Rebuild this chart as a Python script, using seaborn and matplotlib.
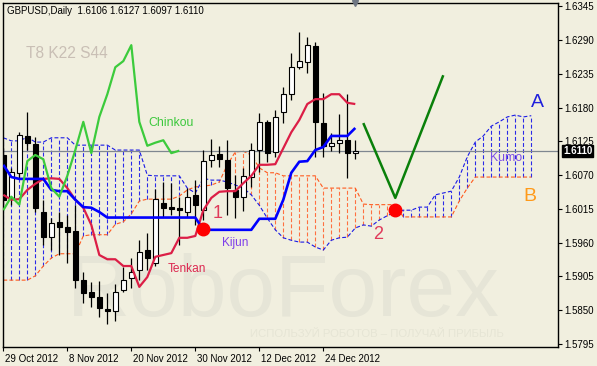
import numpy as np
import matplotlib
matplotlib.use("Agg")
import matplotlib.pyplot as plt
import matplotlib.transforms as mtransforms
import seaborn as sns

# ---------------- data (GBPUSD daily) ----------------
open_ = [1.6103, 1.6033, 1.6074, 1.6134, 1.6121, 1.6010, 1.5969, 1.5994, 1.5986, 1.5979,
         1.5899, 1.5880, 1.5872, 1.5852, 1.5849, 1.5883, 1.5903, 1.5916, 1.5948, 1.5927,
         1.6025, 1.6018, 1.6017, 1.6010, 1.6038, 1.6013, 1.6095, 1.6105, 1.6095, 1.6046,
         1.6035, 1.6067, 1.6111, 1.6157, 1.6108, 1.6173, 1.6202, 1.6246, 1.6255, 1.6281,
         1.6155, 1.6118, 1.6123, 1.6127, 1.6106]
high = [1.6114, 1.6082, 1.6140, 1.6173, 1.6132, 1.6030, 1.6000, 1.6010, 1.6005, 1.6022,
        1.5912, 1.5896, 1.5898, 1.5878, 1.5893, 1.5920, 1.5935, 1.5964, 1.5976, 1.6048,
        1.6059, 1.6057, 1.6035, 1.6049, 1.6062, 1.6111, 1.6129, 1.6118, 1.6127, 1.6070,
        1.6082, 1.6123, 1.6171, 1.6160, 1.6176, 1.6214, 1.6269, 1.6303, 1.6295, 1.6287,
        1.6204, 1.6139, 1.6170, 1.6202, 1.6127]
low = [1.6022, 1.6022, 1.6066, 1.6111, 1.6010, 1.5956, 1.5948, 1.5940, 1.5927, 1.5886,
       1.5862, 1.5855, 1.5839, 1.5828, 1.5832, 1.5880, 1.5886, 1.5899, 1.5916, 1.5922,
       1.6002, 1.6005, 1.5956, 1.6002, 1.5989, 1.5997, 1.6083, 1.6083, 1.6005, 1.6000,
       1.6012, 1.6051, 1.6075, 1.6092, 1.6100, 1.6155, 1.6193, 1.6243, 1.6237, 1.6099,
       1.6100, 1.6110, 1.6106, 1.6066, 1.6097]
close = [1.6030, 1.6075, 1.6136, 1.6123, 1.6017, 1.5969, 1.5992, 1.5986, 1.5977, 1.5899,
         1.5878, 1.5872, 1.5854, 1.5849, 1.5880, 1.5899, 1.5912, 1.5945, 1.5935, 1.6031,
         1.6017, 1.6015, 1.6013, 1.6035, 1.6022, 1.6093, 1.6103, 1.6096, 1.6049, 1.6035,
         1.6069, 1.6111, 1.6157, 1.6106, 1.6165, 1.6202, 1.6246, 1.6256, 1.6282, 1.6157,
         1.6118, 1.6123, 1.6127, 1.6106, 1.6110]

tenkan = [1.6038, 1.6030, 1.6031, 1.6046, 1.6056, 1.6064, 1.6065, 1.6064, 1.6049, 1.6030,
          1.6017, 1.5989, 1.5940, 1.5933, 1.5933, 1.5922, 1.5922, 1.5888, 1.5904, 1.5937,
          1.5940, 1.5943, 1.5968, 1.5968, 1.5971, 1.6013, 1.6033, 1.6043, 1.6044, 1.6044,
          1.6057, 1.6069, 1.6087, 1.6087, 1.6088, 1.6114, 1.6140, 1.6160, 1.6186, 1.6194,
          1.6194, 1.6202, 1.6202, 1.6188, 1.6186]
kijun = [1.6087, 1.6067, 1.6064, 1.6064, 1.6064, 1.6064, 1.6046, 1.6044, 1.6044, 1.6030,
         1.6018, 1.6017, 1.6010, 1.6001, 1.6001, 1.6001, 1.6001, 1.6001, 1.6001, 1.6001,
         1.6001, 1.6001, 1.6001, 1.6001, 1.6001, 1.5981, 1.5981, 1.5981, 1.5981, 1.5981,
         1.5981, 1.5981, 1.5999, 1.5999, 1.5999, 1.6030, 1.6074, 1.6092, 1.6093, 1.6111,
         1.6116, 1.6134, 1.6134, 1.6134, 1.6147]
span_a = [1.6131, 1.6126, 1.6126, 1.6132, 1.6124, 1.6124, 1.6131, 1.6131, 1.6131, 1.6119,
          1.6119, 1.6119, 1.6119, 1.6119, 1.6111, 1.6111, 1.6111, 1.6111, 1.6070, 1.6069,
          1.6069, 1.6069, 1.6069, 1.6049, 1.6041, 1.6065, 1.6062, 1.6062, 1.6059, 1.6054,
          1.6049, 1.6038, 1.6021, 1.6000, 1.5981, 1.5968, 1.5964, 1.5961, 1.5961, 1.5953,
          1.5948, 1.5964, 1.5968, 1.5969, 1.5984, 1.5989, 1.5987, 1.5997, 1.6004, 1.6010,
          1.6013, 1.6013, 1.6018, 1.6018, 1.6038, 1.6041, 1.6044, 1.6067, 1.6100, 1.6124,
          1.6134, 1.6150, 1.6157, 1.6165, 1.6168, 1.6165, 1.6167]
span_b = [1.5899, 1.5899, 1.5899, 1.5899, 1.5906, 1.5922, 1.5935, 1.5942, 1.5942, 1.5942,
          1.5971, 1.5973, 1.5973, 1.5973, 1.5990, 1.5994, 1.6007, 1.6028, 1.6031, 1.6031,
          1.6031, 1.6031, 1.6036, 1.6046, 1.6051, 1.6052, 1.6054, 1.6059, 1.6087, 1.6108,
          1.6109, 1.6103, 1.6082, 1.6074, 1.6074, 1.6069, 1.6069, 1.6069, 1.6069, 1.6069,
          1.6049, 1.6049, 1.6049, 1.6049, 1.6049, 1.6023, 1.6022, 1.6022, 1.6022, 1.6022,
          1.6002, 1.6002, 1.6002, 1.6002, 1.6002, 1.6002, 1.6002, 1.6028, 1.6049, 1.6067,
          1.6067, 1.6067, 1.6067, 1.6067, 1.6067, 1.6067, 1.6067]
chinkou_shift = 22

proj_bar = [45, 49, 55]
proj_price = [1.6155, 1.6033, 1.6233]
signal_bar = [25, 49]
signal_price = [1.5983, 1.6013]

date_tick_bar = [0, 8, 16, 24, 32, 40]
date_tick_label = ["29 Oct 2012", "8 Nov 2012", "20 Nov 2012",
                   "30 Nov 2012", "12 Dec 2012", "24 Dec 2012"]
price_ticks = [1.6345, 1.6290, 1.6235, 1.6180, 1.6125, 1.6070,
               1.6015, 1.5960, 1.5905, 1.5850, 1.5795]
last_price = 1.6110
header = "GBPUSD,Daily  1.6106 1.6127 1.6097 1.6110"

# ---------------- style ----------------
sns.set_theme(style="white")
plt.rcParams["font.family"] = ["Liberation Sans", "DejaVu Sans"]
plt.rcParams["lines.solid_capstyle"] = "butt"

BG = "#F1EFDF"
fig = plt.figure(figsize=(5.97, 3.66), dpi=100, facecolor=BG)
ax = fig.add_axes([3 / 597, 19 / 366, 555 / 597, 344 / 366], facecolor=BG)

o = np.array(open_); h = np.array(high); l = np.array(low); c = np.array(close)
n = len(c)
idx = np.arange(n)
sa = np.array(span_a); sb = np.array(span_b)
cidx = np.arange(len(sa))

# watermark
ax.text(67 / 597, 1 - 316 / 366, "RoboForex", transform=fig.transFigure,
        fontsize=63, color="#E6E5D7", ha="left", va="baseline", zorder=0)
ax.text(250 / 597, 1 - 337 / 366, "ИСПОЛЬЗУЙ РОБОТОВ – ПОЛУЧАЙ ПРИБЫЛЬ",
        transform=fig.transFigure, fontsize=8.2, color="#E6E5D5",
        ha="left", va="baseline", zorder=0)

# cloud hatching
dash = (0, (3.5, 2))
up = sa >= sb
ax.vlines(cidx[up], sb[up], sa[up], colors="#2A2AE8", linestyles=dash, lw=0.8, zorder=1)
ax.vlines(cidx[~up], sa[~up], sb[~up], colors="#FF7040", linestyles=dash, lw=0.8, zorder=1)
sns.lineplot(x=cidx, y=sb, ax=ax, color="#FF5A1E", lw=0.8, linestyle=dash, zorder=1.2)
sns.lineplot(x=cidx, y=sa, ax=ax, color="#1A1AE6", lw=0.8, linestyle=dash, zorder=1.2)

# last price line
ax.axhline(last_price, color="#7F8790", lw=0.9, zorder=1.5)

# candles
ax.vlines(idx, l, h, color="black", lw=0.9, zorder=3)
bull = c >= o
ax.bar(idx[bull], (c - o)[bull], bottom=o[bull], width=0.62, color="white",
       edgecolor="black", lw=0.8, zorder=4)
ax.bar(idx[~bull], (o - c)[~bull], bottom=c[~bull], width=0.62, color="black",
       edgecolor="black", lw=0.8, zorder=4)

# ichimoku lines
sns.lineplot(x=idx, y=tenkan, ax=ax, color="#DC1E46", lw=1.6, zorder=5)
sns.lineplot(x=idx, y=kijun, ax=ax, color="#0000FF", lw=1.9, zorder=5)
sns.lineplot(x=idx[: n - chinkou_shift], y=c[chinkou_shift:], ax=ax,
             color="#3CCB3C", lw=1.6, zorder=5)

# projection and signals
sns.lineplot(x=proj_bar, y=proj_price, ax=ax, color="#0A800A", lw=1.8, zorder=5)
ax.plot(signal_bar, signal_price, "o", color="#FF0000", ms=9, mec="#FF0000", zorder=6)

# labels
ax.text(20.96, 1.6155, "Chinkou", color="#3CC83C", fontsize=8.8, ha="center", va="center", zorder=7)
ax.text(2.84, 1.6269, "T8 K22 S44", color="#C9BFB5", fontsize=11.2, ha="left", va="center", zorder=7)
ax.text(62.8, 1.6098, "Kumo", color="#7B4CE6", fontsize=8.8, ha="center", va="center", zorder=7)
ax.text(66.8, 1.6189, "A", color="#2020DC", fontsize=14, ha="center", va="center", zorder=7)
ax.text(65.8, 1.6035, "B", color="#FF9A1A", fontsize=14, ha="center", va="center", zorder=7)
ax.text(26.84, 1.6008, "1", color="#E03A5A", fontsize=13, ha="center", va="center", zorder=7)
ax.text(46.84, 1.5974, "2", color="#E03A5A", fontsize=13, ha="center", va="center", zorder=7)
ax.text(28.96, 1.5960, "Kijun", color="#7F3FEA", fontsize=8.6, ha="center", va="center", zorder=7)
ax.text(22.96, 1.5917, "Tenkan", color="#DC2850", fontsize=8.6, ha="center", va="center", zorder=7)

# axes
ax.set_xlim(-0.04, 69.34)
ax.set_ylim(1.5790, 1.63507)
ax.set_xlabel(""); ax.set_ylabel("")
for s in ax.spines.values():
    s.set_color("black"); s.set_linewidth(1.0); s.set_visible(True)

ax.set_yticks(price_ticks)
ax.set_yticklabels([f"{v:.4f}" for v in price_ticks])
ax.tick_params(axis="y", left=False, right=True, labelleft=False, labelright=True,
               direction="out", length=3, width=0.8, pad=1.5, labelsize=7, colors="black")
ax.set_xticks(date_tick_bar)
ax.set_xticklabels(date_tick_label)
ax.tick_params(axis="x", bottom=True, direction="out", length=3, width=0.8,
               pad=2, labelsize=7, colors="black")
off = mtransforms.ScaledTranslation(1.5 / 72, 0, fig.dpi_scale_trans)
for lab in ax.get_xticklabels():
    lab.set_horizontalalignment("left")
    lab.set_transform(lab.get_transform() + off)

# last price box
tr = mtransforms.blended_transform_factory(ax.transAxes, ax.transData)
ax.text(1.0 + 5 / 555, last_price, "1.6110", transform=tr, ha="left", va="center",
        fontsize=7, fontweight="bold", color="white", zorder=8, clip_on=False,
        bbox=dict(boxstyle="square,pad=0.12", fc="black", ec="black"))

# shift marker
ax.plot([44], [1.63507], marker="v", color="#6E7682", ms=5, clip_on=False, zorder=8)

fig.text(7 / 597, 1 - 11 / 366, header, fontsize=7, color="black", ha="left", va="center")

fig.savefig("out.png", dpi=100, facecolor=BG)
